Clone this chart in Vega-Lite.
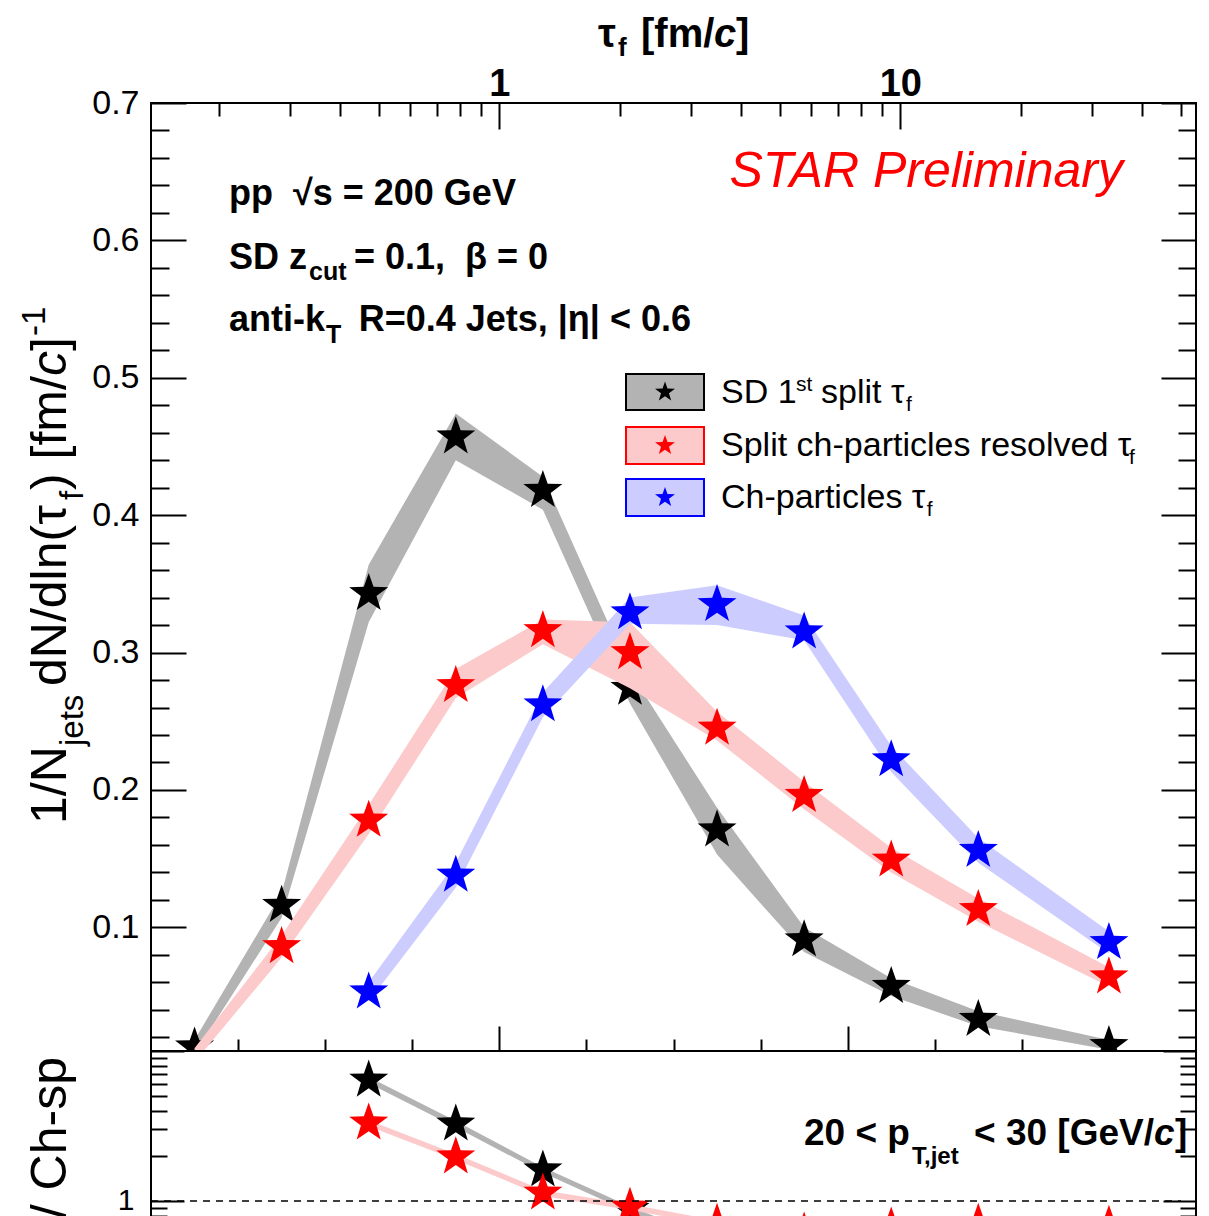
{
  "$schema": "https://vega.github.io/schema/vega-lite/v6.json",
  "padding": {"left": 18, "top": 13, "right": 14, "bottom": 0},
  "background": "white",
  "spacing": 0,
  "bounds": "flush",
  "config": {
    "view": {"stroke": "black", "strokeWidth": 2},
    "axis": {"labelFont": "Liberation Sans", "labelColor": "black", "tickColor": "black", "tickWidth": 2, "domain": false, "grid": false, "labelOverlap": false, "labelBound": false, "labelFlush": false},
    "text": {"font": "Liberation Sans", "color": "black"}
  },
  "datasets": {
    "tau": [
      {"series": "SD 1st split", "l": -1.75, "v": 0.013, "lo": 0.008, "hi": 0.018},
      {"series": "SD 1st split", "l": -1.25, "v": 0.116, "lo": 0.107, "hi": 0.125},
      {"series": "SD 1st split", "l": -0.75, "v": 0.343, "lo": 0.322, "hi": 0.364},
      {"series": "SD 1st split", "l": -0.25, "v": 0.457, "lo": 0.440, "hi": 0.474},
      {"series": "SD 1st split", "l": 0.25, "v": 0.418, "lo": 0.404, "hi": 0.428},
      {"series": "SD 1st split", "l": 0.75, "v": 0.274, "lo": 0.263, "hi": 0.286},
      {"series": "SD 1st split", "l": 1.25, "v": 0.171, "lo": 0.153, "hi": 0.187},
      {"series": "SD 1st split", "l": 1.75, "v": 0.091, "lo": 0.082, "hi": 0.100},
      {"series": "SD 1st split", "l": 2.25, "v": 0.057, "lo": 0.050, "hi": 0.063},
      {"series": "SD 1st split", "l": 2.75, "v": 0.033, "lo": 0.028, "hi": 0.039},
      {"series": "SD 1st split", "l": 3.5, "v": 0.014, "lo": 0.011, "hi": 0.018},
      {"series": "Split ch-particles resolved", "l": -1.75, "v": null, "lo": 0.002, "hi": 0.012},
      {"series": "Split ch-particles resolved", "l": -1.25, "v": 0.086, "lo": 0.078, "hi": 0.094},
      {"series": "Split ch-particles resolved", "l": -0.75, "v": 0.178, "lo": 0.168, "hi": 0.189},
      {"series": "Split ch-particles resolved", "l": -0.25, "v": 0.276, "lo": 0.267, "hi": 0.288},
      {"series": "Split ch-particles resolved", "l": 0.25, "v": 0.316, "lo": 0.306, "hi": 0.324},
      {"series": "Split ch-particles resolved", "l": 0.75, "v": 0.300, "lo": 0.274, "hi": 0.322},
      {"series": "Split ch-particles resolved", "l": 1.25, "v": 0.245, "lo": 0.236, "hi": 0.257},
      {"series": "Split ch-particles resolved", "l": 1.75, "v": 0.196, "lo": 0.186, "hi": 0.206},
      {"series": "Split ch-particles resolved", "l": 2.25, "v": 0.149, "lo": 0.140, "hi": 0.158},
      {"series": "Split ch-particles resolved", "l": 2.75, "v": 0.113, "lo": 0.104, "hi": 0.121},
      {"series": "Split ch-particles resolved", "l": 3.5, "v": 0.064, "lo": 0.057, "hi": 0.071},
      {"series": "Ch-particles", "l": -0.75, "v": 0.053, "lo": 0.046, "hi": 0.060},
      {"series": "Ch-particles", "l": -0.25, "v": 0.138, "lo": 0.129, "hi": 0.147},
      {"series": "Ch-particles", "l": 0.25, "v": 0.262, "lo": 0.253, "hi": 0.271},
      {"series": "Ch-particles", "l": 0.75, "v": 0.329, "lo": 0.321, "hi": 0.340},
      {"series": "Ch-particles", "l": 1.25, "v": 0.335, "lo": 0.320, "hi": 0.349},
      {"series": "Ch-particles", "l": 1.75, "v": 0.315, "lo": 0.309, "hi": 0.327},
      {"series": "Ch-particles", "l": 2.25, "v": 0.222, "lo": 0.213, "hi": 0.232},
      {"series": "Ch-particles", "l": 2.75, "v": 0.156, "lo": 0.147, "hi": 0.165},
      {"series": "Ch-particles", "l": 3.5, "v": 0.089, "lo": 0.081, "hi": 0.097}
    ],
    "ratio": [
      {"series": "SD 1st split", "l": -0.75, "r": 6.4, "lo": 6.1, "hi": 6.7},
      {"series": "SD 1st split", "l": -0.25, "r": 3.26, "lo": 3.1, "hi": 3.42},
      {"series": "SD 1st split", "l": 0.25, "r": 1.61, "lo": 1.54, "hi": 1.68},
      {"series": "SD 1st split", "l": 0.75, "r": 0.88, "lo": 0.84, "hi": 0.92},
      {"series": "SD 1st split", "l": 1.25, "r": 0.51, "lo": 0.48, "hi": 0.54},
      {"series": "SD 1st split", "l": 1.75, "r": 0.29, "lo": 0.27, "hi": 0.31},
      {"series": "SD 1st split", "l": 2.25, "r": 0.255, "lo": 0.24, "hi": 0.27},
      {"series": "SD 1st split", "l": 2.75, "r": 0.21, "lo": 0.2, "hi": 0.22},
      {"series": "SD 1st split", "l": 3.5, "r": 0.16, "lo": 0.15, "hi": 0.17},
      {"series": "Split ch-particles resolved", "l": -0.75, "r": 3.31, "lo": 3.15, "hi": 3.45},
      {"series": "Split ch-particles resolved", "l": -0.25, "r": 1.97, "lo": 1.88, "hi": 2.06},
      {"series": "Split ch-particles resolved", "l": 0.25, "r": 1.13, "lo": 1.08, "hi": 1.18},
      {"series": "Split ch-particles resolved", "l": 0.75, "r": 0.91, "lo": 0.87, "hi": 0.95},
      {"series": "Split ch-particles resolved", "l": 1.25, "r": 0.71, "lo": 0.68, "hi": 0.74},
      {"series": "Split ch-particles resolved", "l": 1.75, "r": 0.62, "lo": 0.59, "hi": 0.65},
      {"series": "Split ch-particles resolved", "l": 2.25, "r": 0.67, "lo": 0.64, "hi": 0.7},
      {"series": "Split ch-particles resolved", "l": 2.75, "r": 0.71, "lo": 0.68, "hi": 0.74},
      {"series": "Split ch-particles resolved", "l": 3.5, "r": 0.69, "lo": 0.66, "hi": 0.72}
    ],
    "legend": [
      {"series": "SD 1st split", "l1": 0.72727, "l2": 1.17512, "v1": 0.50275, "v2": 0.47655, "lc": 0.9512, "vc": 0.48965},
      {"series": "Split ch-particles resolved", "l1": 0.72727, "l2": 1.17512, "v1": 0.46417, "v2": 0.43724, "lc": 0.9512, "vc": 0.45071},
      {"series": "Ch-particles", "l1": 0.72727, "l2": 1.17512, "v1": 0.42633, "v2": 0.3994, "lc": 0.9512, "vc": 0.41286}
    ],
    "ann": [
      {"role": "xt", "text": "τ", "l": 0.5665, "v": 0.74076},
      {"role": "xt_sub", "text": "f", "l": 0.6813, "v": 0.73421},
      {"role": "xt", "text": "[fm/", "l": 0.8134, "v": 0.74076},
      {"role": "xt_it", "text": "c", "l": 1.2325, "v": 0.74076},
      {"role": "xt", "text": "]", "l": 1.3589, "v": 0.74076},
      {"role": "yt", "text": "1/N", "l": -2.48804, "v": 0.17521},
      {"role": "yt_sub", "text": "jets", "l": -2.39043, "v": 0.23199},
      {"role": "yt", "text": "dN/dln(τ", "l": -2.48804, "v": 0.27566},
      {"role": "yt_sub", "text": "f", "l": -2.39043, "v": 0.41104},
      {"role": "yt", "text": ") [fm/", "l": -2.48804, "v": 0.41832},
      {"role": "yt_it", "text": "c", "l": -2.48804, "v": 0.5013},
      {"role": "yt", "text": "]", "l": -2.48804, "v": 0.51949},
      {"role": "yt_sup", "text": "-1", "l": -2.60861, "v": 0.53041},
      {"role": "ann", "text": "pp\u00a0 √s = 200 GeV", "l": -1.55215, "v": 0.62576},
      {"role": "ann", "text": "SD z", "l": -1.55215, "v": 0.57918},
      {"role": "ann_sub", "text": "cut", "l": -1.09282, "v": 0.57117},
      {"role": "ann_r", "text": "= 0.1,\u00a0 β = 0", "l": 0.27943, "v": 0.57918},
      {"role": "ann", "text": "anti-k", "l": -1.55215, "v": 0.53405},
      {"role": "ann_sub", "text": "T", "l": -0.99522, "v": 0.52531},
      {"role": "ann_r", "text": "R=0.4 Jets, |η| < 0.6", "l": 1.10048, "v": 0.53405},
      {"role": "star", "text": "STAR Preliminary", "l": 3.58086, "v": 0.63886},
      {"role": "leg", "text": "SD 1", "l": 1.27273, "v": 0.48164},
      {"role": "leg_small", "text": "st", "l": 1.70335, "v": 0.49038},
      {"role": "leg", "text": "split τ", "l": 1.84689, "v": 0.48164},
      {"role": "leg_small", "text": "f", "l": 2.33493, "v": 0.47582},
      {"role": "leg", "text": "Split ch-particles resolved τ", "l": 1.27273, "v": 0.44307},
      {"role": "leg_small", "text": "f", "l": 3.61531, "v": 0.43724},
      {"role": "leg", "text": "Ch-particles τ", "l": 1.27273, "v": 0.40522},
      {"role": "leg_small", "text": "f", "l": 2.45455, "v": 0.3994}
    ],
    "ann2": [
      {"role": "pt", "text": "20 < p", "l": 1.7493, "r": 2.3624},
      {"role": "pt_sub", "text": "T,jet", "l": 2.3694, "r": 1.765},
      {"role": "pt_r", "text": "< 30 [GeV/", "l": 3.7589, "r": 2.3624},
      {"role": "pt_it", "text": "c", "l": 3.7589, "r": 2.3624},
      {"role": "pt", "text": "]", "l": 3.8795, "r": 2.3624},
      {"role": "yt2", "text": "/ Ch-sp", "l": -2.48804, "r": 9.1201}
    ],
    "unity": [{"ratio": 1}]
  },
  "vconcat": [
    {
      "width": 1045,
      "height": 948,
      "resolve": {"axis": {"x": "independent", "y": "independent"}},
      "layer": [
        {
          "data": {"name": "tau"},
          "transform": [{"filter": "datum.series == 'SD 1st split'"}],
          "mark": {"type": "area", "color": "#b3b3b3", "opacity": 1, "clip": true},
          "encoding": {
            "x": {"field": "l", "type": "quantitative", "scale": {"domain": [-2, 4], "nice": false, "zero": false},
              "axis": {"orient": "bottom", "title": null, "labels": false, "values": [-1.5, -1, -0.5, 0, 0.5, 1, 1.5, 2, 2.5, 3, 3.5],
                "tickSize": {"condition": {"test": "datum.value == 0 || datum.value == 2", "value": -25}, "value": -12}}},
            "y": {"field": "hi", "type": "quantitative", "scale": {"domain": [0.01, 0.7], "nice": false, "zero": false},
              "axis": {"orient": "left", "title": null, "labelFontSize": 34, "labelPadding": 47,
                "values": [0.02, 0.04, 0.06, 0.08, 0.1, 0.12, 0.14, 0.16, 0.18, 0.2, 0.22, 0.24, 0.26, 0.28, 0.3, 0.32, 0.34, 0.36, 0.38, 0.4, 0.42, 0.44, 0.46, 0.48, 0.5, 0.52, 0.54, 0.56, 0.58, 0.6, 0.62, 0.64, 0.66, 0.68, 0.7],
                "labelExpr": "abs(datum.value*10-round(datum.value*10))<0.001 ? format(datum.value,'.1f') : ''",
                "tickSize": {"condition": {"test": "abs(datum.value*10-round(datum.value*10))<0.001", "value": -35}, "value": -18}}},
            "y2": {"field": "lo"}
          }
        },
        {
          "data": {"name": "tau"},
          "transform": [{"filter": "datum.series == 'SD 1st split'"}],
          "mark": {"type": "point", "shape": "M0,-1L0.235,-0.324L0.951,-0.309L0.38,0.124L0.588,0.809L0,0.4L-0.588,0.809L-0.38,0.124L-0.951,-0.309L-0.235,-0.324Z", "filled": true, "size": 1680, "color": "black", "opacity": 1, "strokeWidth": 0, "clip": true},
          "encoding": {
            "x": {"field": "l", "type": "quantitative", "scale": {"domain": [-2, 4], "nice": false, "zero": false},
              "axis": {"orient": "top", "title": null, "labelFontSize": 38, "labelFontWeight": "bold", "labelPadding": 26,
                "values": [-1.6094, -1.204, -0.9163, -0.6931, -0.5108, -0.3567, -0.2231, -0.1054, 0, 0.6931, 1.0986, 1.3863, 1.6094, 1.7918, 1.9459, 2.0794, 2.1972, 2.302585, 2.9957, 3.4012, 3.6889, 3.912],
                "labelExpr": "abs(datum.value) < 0.001 ? '1' : (abs(datum.value - 2.302585) < 0.001 ? '10' : '')",
                "tickSize": {"condition": {"test": "abs(datum.value) < 0.001 || abs(datum.value - 2.302585) < 0.001", "value": -26}, "value": -13}}},
            "y": {"field": "v", "type": "quantitative", "scale": {"domain": [0.01, 0.7], "nice": false, "zero": false},
              "axis": {"orient": "right", "title": null, "labels": false,
                "values": [0.02, 0.04, 0.06, 0.08, 0.1, 0.12, 0.14, 0.16, 0.18, 0.2, 0.22, 0.24, 0.26, 0.28, 0.3, 0.32, 0.34, 0.36, 0.38, 0.4, 0.42, 0.44, 0.46, 0.48, 0.5, 0.52, 0.54, 0.56, 0.58, 0.6, 0.62, 0.64, 0.66, 0.68, 0.7],
                "tickSize": {"condition": {"test": "abs(datum.value*10-round(datum.value*10))<0.001", "value": -35}, "value": -18}}}
          }
        },
        {
          "data": {"name": "tau"},
          "transform": [{"filter": "datum.series == 'Split ch-particles resolved'"}],
          "mark": {"type": "area", "color": "#fccaca", "opacity": 1, "clip": true},
          "encoding": {
            "x": {"field": "l", "type": "quantitative", "scale": {"domain": [-2, 4], "nice": false, "zero": false}, "axis": null},
            "y": {"field": "hi", "type": "quantitative", "scale": {"domain": [0.01, 0.7], "nice": false, "zero": false}, "axis": null},
            "y2": {"field": "lo"}
          }
        },
        {
          "data": {"name": "tau"},
          "transform": [{"filter": "datum.series == 'Split ch-particles resolved' && datum.v != null"}],
          "mark": {"type": "point", "shape": "M0,-1L0.235,-0.324L0.951,-0.309L0.38,0.124L0.588,0.809L0,0.4L-0.588,0.809L-0.38,0.124L-0.951,-0.309L-0.235,-0.324Z", "filled": true, "size": 1680, "color": "#ff0000", "opacity": 1, "strokeWidth": 0, "clip": true},
          "encoding": {
            "x": {"field": "l", "type": "quantitative", "scale": {"domain": [-2, 4], "nice": false, "zero": false}, "axis": null},
            "y": {"field": "v", "type": "quantitative", "scale": {"domain": [0.01, 0.7], "nice": false, "zero": false}, "axis": null}
          }
        },
        {
          "data": {"name": "tau"},
          "transform": [{"filter": "datum.series == 'Ch-particles'"}],
          "mark": {"type": "area", "color": "#ccccff", "opacity": 1, "clip": true},
          "encoding": {
            "x": {"field": "l", "type": "quantitative", "scale": {"domain": [-2, 4], "nice": false, "zero": false}, "axis": null},
            "y": {"field": "hi", "type": "quantitative", "scale": {"domain": [0.01, 0.7], "nice": false, "zero": false}, "axis": null},
            "y2": {"field": "lo"}
          }
        },
        {
          "data": {"name": "tau"},
          "transform": [{"filter": "datum.series == 'Ch-particles'"}],
          "mark": {"type": "point", "shape": "M0,-1L0.235,-0.324L0.951,-0.309L0.38,0.124L0.588,0.809L0,0.4L-0.588,0.809L-0.38,0.124L-0.951,-0.309L-0.235,-0.324Z", "filled": true, "size": 1680, "color": "#0000ff", "opacity": 1, "strokeWidth": 0, "clip": true},
          "encoding": {
            "x": {"field": "l", "type": "quantitative", "scale": {"domain": [-2, 4], "nice": false, "zero": false}, "axis": null},
            "y": {"field": "v", "type": "quantitative", "scale": {"domain": [0.01, 0.7], "nice": false, "zero": false}, "axis": null}
          }
        },
        {
          "data": {"name": "legend"},
          "mark": {"type": "rect", "strokeWidth": 2, "opacity": 1},
          "encoding": {
            "x": {"field": "l1", "type": "quantitative", "scale": {"domain": [-2, 4], "nice": false, "zero": false}, "axis": null},
            "x2": {"field": "l2"},
            "y": {"field": "v1", "type": "quantitative", "scale": {"domain": [0.01, 0.7], "nice": false, "zero": false}, "axis": null},
            "y2": {"field": "v2"},
            "fill": {"field": "series", "type": "nominal", "scale": {"domain": ["SD 1st split", "Split ch-particles resolved", "Ch-particles"], "range": ["#b3b3b3", "#fccaca", "#ccccff"]}, "legend": null},
            "stroke": {"field": "series", "type": "nominal", "scale": {"domain": ["SD 1st split", "Split ch-particles resolved", "Ch-particles"], "range": ["#000000", "#ff0000", "#0000ff"]}, "legend": null}
          }
        },
        {
          "data": {"name": "legend"},
          "mark": {"type": "point", "shape": "M0,-1L0.235,-0.324L0.951,-0.309L0.38,0.124L0.588,0.809L0,0.4L-0.588,0.809L-0.38,0.124L-0.951,-0.309L-0.235,-0.324Z", "filled": true, "size": 440, "opacity": 1, "strokeWidth": 0},
          "encoding": {
            "x": {"field": "lc", "type": "quantitative", "scale": {"domain": [-2, 4], "nice": false, "zero": false}, "axis": null},
            "y": {"field": "vc", "type": "quantitative", "scale": {"domain": [0.01, 0.7], "nice": false, "zero": false}, "axis": null},
            "color": {"field": "series", "type": "nominal", "scale": {"domain": ["SD 1st split", "Split ch-particles resolved", "Ch-particles"], "range": ["#000000", "#ff0000", "#0000ff"]}, "legend": null}
          }
        },
        {
          "data": {"name": "ann"},
          "transform": [{"filter": "datum.role == 'xt'"}],
          "mark": {"type": "text", "fontSize": 40, "fontWeight": "bold", "align": "left", "baseline": "alphabetic"},
          "encoding": {
            "x": {"field": "l", "type": "quantitative", "scale": {"domain": [-2, 4], "nice": false, "zero": false}, "axis": null},
            "y": {"field": "v", "type": "quantitative", "scale": {"domain": [0.01, 0.7], "nice": false, "zero": false}, "axis": null},
            "text": {"field": "text"}
          }
        },
        {
          "data": {"name": "ann"},
          "transform": [{"filter": "datum.role == 'xt_it'"}],
          "mark": {"type": "text", "fontSize": 40, "fontWeight": "bold", "fontStyle": "italic", "align": "left", "baseline": "alphabetic"},
          "encoding": {
            "x": {"field": "l", "type": "quantitative", "scale": {"domain": [-2, 4], "nice": false, "zero": false}, "axis": null},
            "y": {"field": "v", "type": "quantitative", "scale": {"domain": [0.01, 0.7], "nice": false, "zero": false}, "axis": null},
            "text": {"field": "text"}
          }
        },
        {
          "data": {"name": "ann"},
          "transform": [{"filter": "datum.role == 'xt_sub'"}],
          "mark": {"type": "text", "fontSize": 26, "fontWeight": "bold", "align": "left", "baseline": "alphabetic"},
          "encoding": {
            "x": {"field": "l", "type": "quantitative", "scale": {"domain": [-2, 4], "nice": false, "zero": false}, "axis": null},
            "y": {"field": "v", "type": "quantitative", "scale": {"domain": [0.01, 0.7], "nice": false, "zero": false}, "axis": null},
            "text": {"field": "text"}
          }
        },
        {
          "data": {"name": "ann"},
          "transform": [{"filter": "datum.role == 'yt'"}],
          "mark": {"type": "text", "fontSize": 50, "angle": 270, "align": "left", "baseline": "alphabetic"},
          "encoding": {
            "x": {"field": "l", "type": "quantitative", "scale": {"domain": [-2, 4], "nice": false, "zero": false}, "axis": null},
            "y": {"field": "v", "type": "quantitative", "scale": {"domain": [0.01, 0.7], "nice": false, "zero": false}, "axis": null},
            "text": {"field": "text"}
          }
        },
        {
          "data": {"name": "ann"},
          "transform": [{"filter": "datum.role == 'yt_it'"}],
          "mark": {"type": "text", "fontSize": 50, "fontStyle": "italic", "angle": 270, "align": "left", "baseline": "alphabetic"},
          "encoding": {
            "x": {"field": "l", "type": "quantitative", "scale": {"domain": [-2, 4], "nice": false, "zero": false}, "axis": null},
            "y": {"field": "v", "type": "quantitative", "scale": {"domain": [0.01, 0.7], "nice": false, "zero": false}, "axis": null},
            "text": {"field": "text"}
          }
        },
        {
          "data": {"name": "ann"},
          "transform": [{"filter": "datum.role == 'yt_sub' || datum.role == 'yt_sup'"}],
          "mark": {"type": "text", "fontSize": 33, "angle": 270, "align": "left", "baseline": "alphabetic"},
          "encoding": {
            "x": {"field": "l", "type": "quantitative", "scale": {"domain": [-2, 4], "nice": false, "zero": false}, "axis": null},
            "y": {"field": "v", "type": "quantitative", "scale": {"domain": [0.01, 0.7], "nice": false, "zero": false}, "axis": null},
            "text": {"field": "text"}
          }
        },
        {
          "data": {"name": "ann"},
          "transform": [{"filter": "datum.role == 'ann'"}],
          "mark": {"type": "text", "fontSize": 36, "fontWeight": "bold", "align": "left", "baseline": "alphabetic"},
          "encoding": {
            "x": {"field": "l", "type": "quantitative", "scale": {"domain": [-2, 4], "nice": false, "zero": false}, "axis": null},
            "y": {"field": "v", "type": "quantitative", "scale": {"domain": [0.01, 0.7], "nice": false, "zero": false}, "axis": null},
            "text": {"field": "text"}
          }
        },
        {
          "data": {"name": "ann"},
          "transform": [{"filter": "datum.role == 'ann_r'"}],
          "mark": {"type": "text", "fontSize": 36, "fontWeight": "bold", "align": "right", "baseline": "alphabetic"},
          "encoding": {
            "x": {"field": "l", "type": "quantitative", "scale": {"domain": [-2, 4], "nice": false, "zero": false}, "axis": null},
            "y": {"field": "v", "type": "quantitative", "scale": {"domain": [0.01, 0.7], "nice": false, "zero": false}, "axis": null},
            "text": {"field": "text"}
          }
        },
        {
          "data": {"name": "ann"},
          "transform": [{"filter": "datum.role == 'ann_sub'"}],
          "mark": {"type": "text", "fontSize": 25, "fontWeight": "bold", "align": "left", "baseline": "alphabetic"},
          "encoding": {
            "x": {"field": "l", "type": "quantitative", "scale": {"domain": [-2, 4], "nice": false, "zero": false}, "axis": null},
            "y": {"field": "v", "type": "quantitative", "scale": {"domain": [0.01, 0.7], "nice": false, "zero": false}, "axis": null},
            "text": {"field": "text"}
          }
        },
        {
          "data": {"name": "ann"},
          "transform": [{"filter": "datum.role == 'star'"}],
          "mark": {"type": "text", "fontSize": 50, "fontStyle": "italic", "color": "#ff0000", "align": "right", "baseline": "alphabetic"},
          "encoding": {
            "x": {"field": "l", "type": "quantitative", "scale": {"domain": [-2, 4], "nice": false, "zero": false}, "axis": null},
            "y": {"field": "v", "type": "quantitative", "scale": {"domain": [0.01, 0.7], "nice": false, "zero": false}, "axis": null},
            "text": {"field": "text"}
          }
        },
        {
          "data": {"name": "ann"},
          "transform": [{"filter": "datum.role == 'leg'"}],
          "mark": {"type": "text", "fontSize": 34, "align": "left", "baseline": "alphabetic"},
          "encoding": {
            "x": {"field": "l", "type": "quantitative", "scale": {"domain": [-2, 4], "nice": false, "zero": false}, "axis": null},
            "y": {"field": "v", "type": "quantitative", "scale": {"domain": [0.01, 0.7], "nice": false, "zero": false}, "axis": null},
            "text": {"field": "text"}
          }
        },
        {
          "data": {"name": "ann"},
          "transform": [{"filter": "datum.role == 'leg_small'"}],
          "mark": {"type": "text", "fontSize": 21, "align": "left", "baseline": "alphabetic"},
          "encoding": {
            "x": {"field": "l", "type": "quantitative", "scale": {"domain": [-2, 4], "nice": false, "zero": false}, "axis": null},
            "y": {"field": "v", "type": "quantitative", "scale": {"domain": [0.01, 0.7], "nice": false, "zero": false}, "axis": null},
            "text": {"field": "text"}
          }
        }
      ]
    },
    {
      "width": 1045,
      "height": 167,
      "resolve": {"axis": {"x": "independent", "y": "independent"}},
      "layer": [
        {
          "data": {"name": "ratio"},
          "transform": [{"filter": "datum.series == 'SD 1st split'"}],
          "mark": {"type": "area", "color": "#b3b3b3", "opacity": 1, "clip": true},
          "encoding": {
            "x": {"field": "l", "type": "quantitative", "scale": {"domain": [-2, 4], "nice": false, "zero": false}, "axis": null},
            "y": {"field": "hi", "type": "quantitative", "scale": {"type": "log", "domain": [0.77, 10], "nice": false},
              "axis": {"orient": "left", "title": null, "labelFontSize": 30, "labelPadding": 50,
                "values": [0.8, 0.9, 1, 2, 3, 4, 5, 6, 7, 8, 9, 10],
                "labelExpr": "datum.value == 1 ? '1' : ''",
                "tickSize": {"condition": {"test": "datum.value == 1 || datum.value == 10", "value": -33}, "value": -16}}},
            "y2": {"field": "lo"}
          }
        },
        {
          "data": {"name": "ratio"},
          "transform": [{"filter": "datum.series == 'SD 1st split'"}],
          "mark": {"type": "point", "shape": "M0,-1L0.235,-0.324L0.951,-0.309L0.38,0.124L0.588,0.809L0,0.4L-0.588,0.809L-0.38,0.124L-0.951,-0.309L-0.235,-0.324Z", "filled": true, "size": 1680, "color": "black", "opacity": 1, "strokeWidth": 0, "clip": true},
          "encoding": {
            "x": {"field": "l", "type": "quantitative", "scale": {"domain": [-2, 4], "nice": false, "zero": false}, "axis": null},
            "y": {"field": "r", "type": "quantitative", "scale": {"type": "log", "domain": [0.77, 10], "nice": false},
              "axis": {"orient": "right", "title": null, "labels": false,
                "values": [0.8, 0.9, 1, 2, 3, 4, 5, 6, 7, 8, 9, 10],
                "tickSize": {"condition": {"test": "datum.value == 1 || datum.value == 10", "value": -33}, "value": -16}}}
          }
        },
        {
          "data": {"name": "ratio"},
          "transform": [{"filter": "datum.series == 'Split ch-particles resolved'"}],
          "mark": {"type": "area", "color": "#fccaca", "opacity": 1, "clip": true},
          "encoding": {
            "x": {"field": "l", "type": "quantitative", "scale": {"domain": [-2, 4], "nice": false, "zero": false}, "axis": null},
            "y": {"field": "hi", "type": "quantitative", "scale": {"type": "log", "domain": [0.77, 10], "nice": false}, "axis": null},
            "y2": {"field": "lo"}
          }
        },
        {
          "data": {"name": "ratio"},
          "transform": [{"filter": "datum.series == 'Split ch-particles resolved'"}],
          "mark": {"type": "point", "shape": "M0,-1L0.235,-0.324L0.951,-0.309L0.38,0.124L0.588,0.809L0,0.4L-0.588,0.809L-0.38,0.124L-0.951,-0.309L-0.235,-0.324Z", "filled": true, "size": 1680, "color": "#ff0000", "opacity": 1, "strokeWidth": 0, "clip": true},
          "encoding": {
            "x": {"field": "l", "type": "quantitative", "scale": {"domain": [-2, 4], "nice": false, "zero": false}, "axis": null},
            "y": {"field": "r", "type": "quantitative", "scale": {"type": "log", "domain": [0.77, 10], "nice": false}, "axis": null}
          }
        },
        {
          "data": {"name": "unity"},
          "mark": {"type": "rule", "color": "black", "strokeWidth": 1.5, "strokeDash": [7, 6]},
          "encoding": {
            "x": {"datum": -2, "type": "quantitative", "scale": {"domain": [-2, 4], "nice": false, "zero": false}, "axis": null},
            "x2": {"datum": 3.914},
            "y": {"field": "ratio", "type": "quantitative", "scale": {"type": "log", "domain": [0.77, 10], "nice": false}, "axis": null}
          }
        },
        {
          "data": {"name": "ann2"},
          "transform": [{"filter": "datum.role == 'pt'"}],
          "mark": {"type": "text", "fontSize": 37, "fontWeight": "bold", "align": "left", "baseline": "alphabetic"},
          "encoding": {
            "x": {"field": "l", "type": "quantitative", "scale": {"domain": [-2, 4], "nice": false, "zero": false}, "axis": null},
            "y": {"field": "r", "type": "quantitative", "scale": {"type": "log", "domain": [0.77, 10], "nice": false}, "axis": null},
            "text": {"field": "text"}
          }
        },
        {
          "data": {"name": "ann2"},
          "transform": [{"filter": "datum.role == 'pt_r'"}],
          "mark": {"type": "text", "fontSize": 37, "fontWeight": "bold", "align": "right", "baseline": "alphabetic"},
          "encoding": {
            "x": {"field": "l", "type": "quantitative", "scale": {"domain": [-2, 4], "nice": false, "zero": false}, "axis": null},
            "y": {"field": "r", "type": "quantitative", "scale": {"type": "log", "domain": [0.77, 10], "nice": false}, "axis": null},
            "text": {"field": "text"}
          }
        },
        {
          "data": {"name": "ann2"},
          "transform": [{"filter": "datum.role == 'pt_it'"}],
          "mark": {"type": "text", "fontSize": 37, "fontWeight": "bold", "fontStyle": "italic", "align": "left", "baseline": "alphabetic"},
          "encoding": {
            "x": {"field": "l", "type": "quantitative", "scale": {"domain": [-2, 4], "nice": false, "zero": false}, "axis": null},
            "y": {"field": "r", "type": "quantitative", "scale": {"type": "log", "domain": [0.77, 10], "nice": false}, "axis": null},
            "text": {"field": "text"}
          }
        },
        {
          "data": {"name": "ann2"},
          "transform": [{"filter": "datum.role == 'pt_sub'"}],
          "mark": {"type": "text", "fontSize": 24, "fontWeight": "bold", "align": "left", "baseline": "alphabetic"},
          "encoding": {
            "x": {"field": "l", "type": "quantitative", "scale": {"domain": [-2, 4], "nice": false, "zero": false}, "axis": null},
            "y": {"field": "r", "type": "quantitative", "scale": {"type": "log", "domain": [0.77, 10], "nice": false}, "axis": null},
            "text": {"field": "text"}
          }
        },
        {
          "data": {"name": "ann2"},
          "transform": [{"filter": "datum.role == 'yt2'"}],
          "mark": {"type": "text", "fontSize": 50, "angle": 270, "align": "right", "baseline": "alphabetic"},
          "encoding": {
            "x": {"field": "l", "type": "quantitative", "scale": {"domain": [-2, 4], "nice": false, "zero": false}, "axis": null},
            "y": {"field": "r", "type": "quantitative", "scale": {"type": "log", "domain": [0.77, 10], "nice": false}, "axis": null},
            "text": {"field": "text"}
          }
        }
      ]
    }
  ]
}
